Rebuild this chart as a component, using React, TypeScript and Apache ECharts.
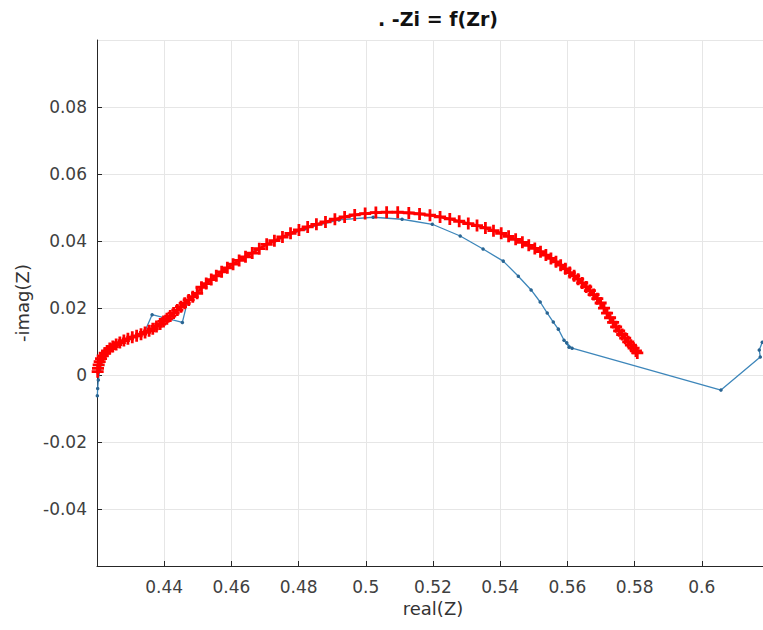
import React, { useEffect, useRef } from "react";
import * as echarts from "echarts";

const titleText = ". -Zi = f(Zr)";
const xName = "real(Z)";
const yName = "-imag(Z)";

const redX = [
  0.4202, 0.4203, 0.4205, 0.4208, 0.4212, 0.4217, 0.4223, 0.423, 0.4238, 0.4247,
  0.4257, 0.4268, 0.428, 0.4292, 0.4305, 0.4318, 0.4331, 0.4343, 0.4355, 0.4366,
  0.4377, 0.4388, 0.4398, 0.4408, 0.4418, 0.4428, 0.4439, 0.445, 0.4461, 0.4473,
  0.4485, 0.4498, 0.4511, 0.4525, 0.454, 0.4555, 0.4571, 0.4588, 0.4605, 0.4623,
  0.4642, 0.4662, 0.4683, 0.4705, 0.4728, 0.4752, 0.4776, 0.4801, 0.4827, 0.4853,
  0.488, 0.4908, 0.4937, 0.4967, 0.4998, 0.503, 0.5062, 0.5095, 0.5128, 0.516,
  0.5191, 0.5221, 0.525, 0.5278, 0.5305, 0.5331, 0.5356, 0.538, 0.5403, 0.5425,
  0.5446, 0.5466, 0.5485, 0.5503, 0.552, 0.5536, 0.5551, 0.5566, 0.558, 0.5594,
  0.5607, 0.562, 0.5632, 0.5644, 0.5656, 0.5667, 0.5678, 0.5689, 0.5699, 0.5709,
  0.5718, 0.5727, 0.5736, 0.5745, 0.5754, 0.5763, 0.5772, 0.5781, 0.5789, 0.5797,
  0.5804, 0.5808,
];
const redY = [
  0.001, 0.002, 0.003, 0.004, 0.0049, 0.0057, 0.0065, 0.0072, 0.0079, 0.0085,
  0.0091, 0.0097, 0.0103, 0.0108, 0.0113, 0.0117, 0.0122, 0.0127, 0.0132, 0.0138,
  0.0145, 0.0152, 0.016, 0.0168, 0.0176, 0.0185, 0.0194, 0.0204, 0.0214, 0.0224,
  0.0234, 0.0244, 0.0262, 0.0273, 0.0285, 0.0296, 0.0308, 0.032, 0.0331, 0.0342,
  0.0353, 0.0364, 0.0377, 0.039, 0.0401, 0.0412, 0.0423, 0.0433, 0.0442, 0.045,
  0.0457, 0.0465, 0.0472, 0.0478, 0.0482, 0.0485, 0.0486, 0.0486, 0.0484, 0.0481,
  0.0477, 0.0472, 0.0466, 0.0459, 0.0452, 0.0446, 0.0439, 0.0431, 0.0423, 0.0414,
  0.0405, 0.0396, 0.0387, 0.0378, 0.0368, 0.0358, 0.0348, 0.0338, 0.0328, 0.0317,
  0.0306, 0.0296, 0.0286, 0.0275, 0.0263, 0.0252, 0.024, 0.0228, 0.0215, 0.02,
  0.0185, 0.0171, 0.0157, 0.0144, 0.0132, 0.0121, 0.011, 0.0099, 0.0089, 0.008,
  0.0072, 0.0066,
];

const blueX = [
  0.4201, 0.4202, 0.4204, 0.4208, 0.422, 0.4245, 0.429, 0.434, 0.4364, 0.4454,
  0.447, 0.452, 0.458, 0.465, 0.473, 0.482, 0.492, 0.5022, 0.5108, 0.5198,
  0.5281, 0.5349, 0.5409, 0.5454, 0.5492, 0.5519, 0.554, 0.5558, 0.5573, 0.559,
  0.5605, 0.5598, 0.5614, 0.6057, 0.6174, 0.6171, 0.618,
];
const blueY = [
  -0.0062, -0.004, -0.0015, 0.0015, 0.005, 0.0082, 0.0106, 0.0125, 0.018, 0.0157,
  0.0222, 0.0267, 0.0313, 0.0362, 0.04, 0.0437, 0.0463, 0.0471, 0.0465, 0.045,
  0.0415, 0.0376, 0.034, 0.0295, 0.0254, 0.0218, 0.0185, 0.0158, 0.0137, 0.0104,
  0.0083, 0.0096, 0.008, -0.0045, 0.0054, 0.0075, 0.0098,
];

const PLUS = "path://M4 0h2.4v4h4v2.4h-4v4H4v-4H0V4h4z";
const FONT = "DejaVu Sans";

export default function App() {
  const ref = useRef<HTMLDivElement>(null);
  useEffect(() => {
    document.body.style.margin = "0";
    const chart = echarts.init(ref.current!, null, { renderer: "svg" });
    const fmt = (v: number) => String(parseFloat(Number(v).toFixed(4)));
    const labelStyle = { fontFamily: FONT, fontSize: 17, color: "#404040" };
    chart.setOption({
      animation: false,
      backgroundColor: "#ffffff",
      title: {
        text: titleText,
        left: 433,
        top: 4,
        textAlign: "center",
        textStyle: { fontFamily: FONT, fontSize: 19, fontWeight: "bold", color: "#111" },
      },
      grid: { left: 97, top: 40, right: -6, bottom: 64, containLabel: false, outerBoundsMode: "none" },
      xAxis: {
        type: "value",
        min: 0.42,
        max: 0.62,
        interval: 0.02,
        name: xName,
        nameLocation: "middle",
        nameGap: 30,
        nameTextStyle: { fontFamily: FONT, fontSize: 18, color: "#333" },
        axisLine: { show: true, onZero: false, lineStyle: { color: "#262626", width: 1 } },
        axisTick: { show: true, inside: true, length: 5, lineStyle: { color: "#262626" } },
        axisLabel: { ...labelStyle, margin: 12, showMinLabel: false, showMaxLabel: false, formatter: fmt },
        splitLine: { show: true, lineStyle: { color: "#e6e6e6", width: 1 } },
      },
      yAxis: {
        type: "value",
        min: -0.057,
        max: 0.1,
        splitNumber: 8,
        name: yName,
        nameLocation: "middle",
        nameGap: 66,
        nameTextStyle: { fontFamily: FONT, fontSize: 18, color: "#333" },
        axisLine: { show: true, onZero: false, lineStyle: { color: "#262626", width: 1 } },
        axisTick: { show: true, inside: true, length: 5, lineStyle: { color: "#262626" } },
        axisLabel: { ...labelStyle, margin: 10, showMinLabel: false, showMaxLabel: false, formatter: fmt },
        splitLine: { show: true, lineStyle: { color: "#e6e6e6", width: 1 } },
      },
      series: [
        {
          type: "line",
          data: blueX.map((x, i) => [x, blueY[i]]),
          symbol: "circle",
          symbolSize: 3.5,
          showAllSymbol: true,
          lineStyle: { color: "#3d86ba", width: 1.3 },
          itemStyle: { color: "#2a6592" },
          z: 2,
        },
        {
          type: "line",
          data: redX.map((x, i) => [x, redY[i]]),
          symbol: PLUS,
          symbolSize: 12,
          showAllSymbol: true,
          lineStyle: { color: "#ff0000", width: 2.6 },
          itemStyle: { color: "#ff0000" },
          z: 3,
        },
      ],
    });
    return () => chart.dispose();
  }, []);
  return (
    <div
      ref={ref}
      style={{ position: "fixed", left: 0, top: 0, width: 763, height: 630, overflow: "hidden" }}
    />
  );
}
